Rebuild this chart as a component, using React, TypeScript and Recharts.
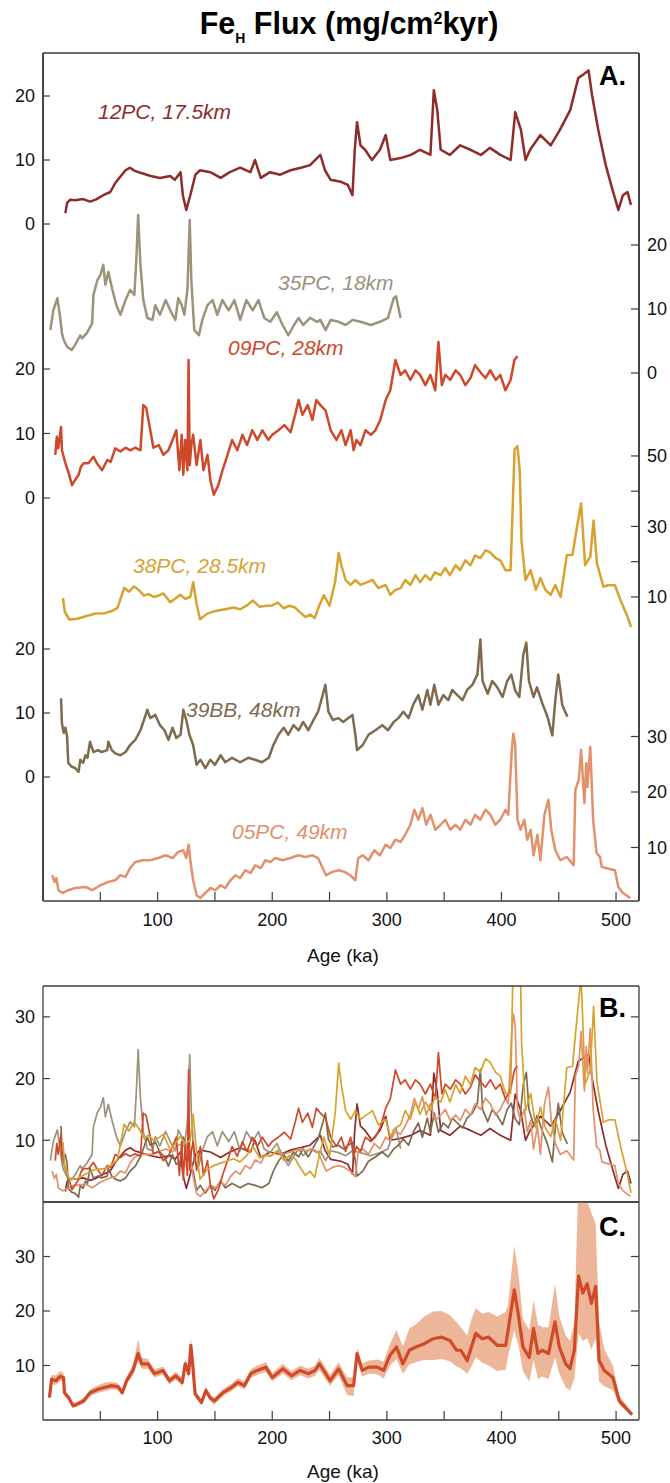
import React from 'react';
import { ComposedChart, Line, Area, XAxis, YAxis } from 'recharts';

const FONT = '"Liberation Sans", Arial, Helvetica, sans-serif';
const AXIS = '#3d3d3d';

// colours of the cores
const COL12 = '#8e2b2b';
const COL35 = '#9b937b';
const COL09 = '#d0482a';
const COL38 = '#d8a22f';
const COL39 = '#7e6b4f';
const COL05 = '#e3906c';
const COLMEAN = '#d04a28';
const COLBAND = '#edb699';

// 12PC, 17.5km
const age12PC = [19.5, 21, 23.8, 28, 35, 41, 46, 52.6, 58.7, 63, 67.5, 72, 76, 80, 85, 94, 102, 111, 115, 120, 122, 125, 128.5, 133, 137, 146, 155, 163, 172, 181, 185, 190, 198, 207, 216, 225, 233, 242, 246, 251, 260, 266, 270, 272, 274, 277, 281, 287, 294, 299, 303, 312, 321, 329, 338, 341, 344, 347, 355, 364, 373, 382, 390, 399, 408, 412, 417, 421, 425, 434, 443, 451, 460, 467, 471, 476, 479, 484.5, 491, 497, 502, 506, 510, 513];
const flux12PC = [1.7, 3.3, 3.8, 3.7, 3.9, 3.5, 3.8, 4.5, 5, 6.4, 7.4, 8.4, 8.8, 8.3, 8, 7.5, 7.2, 7.5, 6.9, 8.1, 4.5, 2.2, 4.5, 7.7, 8.4, 8.1, 7.2, 8.1, 8.8, 8.1, 10, 7.2, 8.1, 7.7, 8.4, 8.8, 9.2, 10.8, 8.4, 6.9, 6.6, 6.1, 4.5, 11.6, 15.9, 12.3, 11.6, 10, 11.6, 13.9, 10, 10.3, 10.8, 11.6, 10.8, 20.9, 17.8, 11.6, 10.8, 12.3, 11.6, 10.8, 11.9, 10.8, 10, 17.5, 14.7, 10, 11.6, 13.9, 12.3, 14.7, 17.8, 22.8, 23.3, 24, 20.2, 14.7, 9.2, 5.3, 2.2, 4.5, 5, 3];

// 35PC, 18km
const age35PC = [6.4, 9, 12.5, 15, 16.5, 18, 21, 25, 28, 32.5, 34, 38, 42.8, 44, 47.4, 50, 52.6, 54.4, 57, 60.5, 64, 67.5, 72, 76, 79.7, 81.4, 83, 85, 87.5, 91, 95.4, 98, 102, 107, 111, 115.5, 118, 121, 123.3, 126, 128, 129.4, 132, 136, 139, 143.5, 148, 152, 156.5, 162, 167, 172, 177.4, 183, 188, 193, 198.3, 204, 209, 214, 219, 223, 227, 233, 239, 242, 246.5, 251, 258, 264, 270, 277, 286, 294, 301, 306, 308, 312];
const flux35PC = [6.7, 9.8, 11.7, 8.6, 6.2, 5.2, 4.1, 3.6, 4.4, 5.9, 5.4, 6.2, 7.7, 12.2, 14.5, 15.3, 16.9, 13.8, 15.8, 13, 10.6, 9.1, 11.4, 13, 12.2, 17.7, 24.7, 16.9, 11.4, 8.6, 8.3, 10.6, 9.1, 11.4, 9.8, 8.3, 11.7, 10.6, 9.1, 13, 23.9, 14.5, 6.7, 5.9, 8.3, 10.6, 11.4, 9.1, 11.4, 9.8, 11.4, 8.3, 11.4, 9.8, 11.4, 8.6, 8, 9.5, 7.5, 5.9, 7.5, 8.6, 7.5, 8.6, 8, 8.3, 6.7, 8.3, 8, 7.5, 8.3, 8, 7.5, 8, 8.6, 11.7, 12, 8.6];

// 09PC, 28km
const age09PC = [10.7, 12, 13.3, 15.7, 16.5, 19.5, 22.3, 25.3, 28, 31, 33, 35.4, 39.6, 44, 47, 51.5, 56, 59, 63, 67.5, 72, 76, 80.5, 85, 87.5, 90, 93.6, 96.3, 101, 105, 109.4, 113, 116.3, 119, 121, 122.4, 124, 126, 127, 128, 129.4, 131, 134, 137.3, 140, 143.5, 146, 149, 153, 156.6, 161, 165, 169.5, 174, 178, 182.6, 187, 191.3, 196.6, 200, 205.4, 210.6, 216, 220, 223, 226.3, 231, 235, 238.5, 242, 246.5, 251, 256, 260.3, 264, 268.4, 271, 273.5, 277, 281.3, 286, 290, 294.3, 299, 303, 307.5, 312, 316, 320.5, 325, 329, 333.6, 338, 342.3, 345, 348, 351, 355.4, 360, 364, 368.5, 373, 377, 381.6, 386, 390.3, 395, 399, 403.5, 408, 411.3, 414];
const flux09PC = [6.7, 9.5, 7.7, 11, 7.4, 5.4, 3.9, 2, 2.8, 3.6, 4.8, 5.4, 5.4, 6.4, 5.4, 4.3, 5.9, 5.6, 7.7, 7.2, 7.8, 7.4, 7.8, 7.4, 14.4, 14, 10.5, 7.8, 8.2, 6.7, 7.4, 9, 10.5, 4.3, 9.8, 3.6, 9, 4.3, 21.4, 5.1, 8.2, 9.8, 5.1, 9, 4.3, 6.7, 2.8, 0.5, 2, 4.3, 6.7, 9, 7.4, 9.8, 8.2, 10.5, 9, 10.5, 9, 9.8, 10.5, 11.3, 10.2, 12.9, 15.2, 12.9, 14.4, 12.1, 15.2, 14.4, 13.6, 10.5, 9, 10.5, 8.2, 10.5, 7.4, 9, 8.2, 10.5, 9.8, 10.5, 12.1, 15.2, 16.7, 21.4, 19.1, 19.8, 18.3, 19.8, 19.1, 17.5, 19.1, 16.7, 24.2, 17.5, 19.1, 18.3, 19.8, 19.1, 17.5, 18.6, 20.6, 19.5, 18.6, 19.8, 18.3, 19.1, 16.7, 18.3, 21.4, 22];

// 38PC, 28.5km
const age38PC = [17.4, 19, 23, 30, 38, 46, 54, 60, 65, 70.8, 75, 79.5, 84, 88, 92, 96.6, 101, 105, 111, 115, 119.7, 124, 128.5, 131, 134, 137, 143, 149, 155, 160, 166, 172, 178, 183, 189, 195, 200, 205, 210, 215, 220, 224, 229, 233, 237, 241, 245, 250, 255, 258, 260.3, 264, 268.4, 272.5, 277, 283, 287.5, 292.6, 299, 303, 307.5, 312, 316, 320.5, 325, 329, 333.6, 338, 342, 347, 351, 355, 360, 364, 368.5, 373, 377, 381.6, 386, 390, 395, 399, 403.5, 408, 410, 411.5, 414, 416, 417.5, 421, 425.5, 430, 434, 438.3, 443, 447, 451.6, 457, 462, 466, 469.5, 473, 477.5, 480.4, 483.3, 489, 493, 499, 504, 510, 513];
const flux38PC = [9.7, 5.8, 3.6, 3.8, 4.6, 5.3, 5.4, 6, 6.9, 12.6, 11.5, 13, 11.8, 10.4, 10.8, 10, 10.4, 11, 8.5, 9.4, 10.6, 9.5, 10, 14.2, 8, 3.7, 5.2, 5.9, 6.3, 6.6, 7, 6.5, 7.6, 9, 7.2, 7.5, 7.6, 8.4, 6.8, 7.5, 7, 5.7, 4.3, 5, 4, 7.5, 10.5, 7.5, 14.5, 22.5, 19, 14.8, 13.4, 14.8, 13.4, 14.2, 14.8, 12.5, 13.4, 10.6, 12, 12.5, 14.8, 13.4, 16.2, 14.2, 16.2, 14.8, 17, 16.2, 18.2, 16.2, 19, 17.6, 20.4, 19, 21.8, 21, 23.2, 22.7, 21, 20.4, 17.6, 17.6, 37.3, 51.9, 52.8, 45.8, 26, 14.8, 17.6, 12, 15.4, 12, 10.6, 13.4, 10, 21.8, 22, 30, 36.5, 19, 21.4, 31.7, 19.5, 12.9, 13.3, 13.3, 9, 4.4, 1.5];

// 39BB, 48km
const age39BB = [15.7, 16.5, 18, 19.5, 21, 22, 25, 28, 31, 32.5, 35, 37, 38.8, 41, 44, 48, 51, 56, 57, 60, 63, 67.5, 72, 76, 80.5, 85, 87.5, 91, 93.6, 98, 102, 106, 109.4, 113, 116.3, 120, 122.4, 125, 127.7, 131, 134, 137.3, 141.6, 146, 150, 155, 159, 165, 172, 179, 185, 191, 197, 201, 205.4, 210, 214, 218.5, 223, 227, 231.5, 236, 240, 244, 246.4, 249, 253, 257.7, 262, 266.4, 270, 272.5, 274, 279, 284, 290, 296, 301, 306, 310, 314.4, 319, 323, 327.5, 331, 335.3, 338, 341.4, 345, 349.3, 353.6, 357, 361.5, 366, 370, 374.6, 379, 381.6, 383.5, 388, 392, 396.4, 401, 405, 408.6, 412, 415.6, 419, 421.7, 424, 428, 431, 435.7, 440, 444.4, 447, 449.6, 453, 457.5];
const flux39BB = [12.3, 8.4, 6.9, 7.7, 6.3, 2.2, 1.6, 1.4, 0.8, 2.7, 2.2, 3.4, 3, 5.5, 3.9, 4.2, 3.9, 4.2, 5.5, 4.2, 3.7, 3.4, 3.9, 5, 5.8, 7.3, 8.6, 10.5, 9.2, 9.7, 8.1, 7.3, 5.8, 7.7, 6.1, 6.6, 10.5, 8.9, 6.6, 5, 1.9, 2.7, 1.4, 2.7, 1.9, 3.4, 2.3, 3, 2.3, 3, 2.7, 2.3, 3, 5, 6.6, 7.7, 6.6, 8.1, 7.3, 8.6, 7.3, 8.9, 10.2, 12.8, 14.4, 10.2, 8.9, 9.2, 8.6, 9.2, 9.7, 6.6, 4.2, 5, 6.6, 7.3, 8.1, 7.3, 8.6, 9.2, 10.2, 9.2, 11.3, 12.8, 10.5, 13.6, 11.3, 14.4, 11.3, 12.8, 12, 13.6, 12.8, 12, 13.6, 14.4, 16, 21.5, 15, 13, 15, 14, 12.5, 15, 16, 13.5, 12.5, 19, 21, 15, 12.5, 14, 11.5, 9.5, 6.5, 12, 16, 11.3, 9.4];

// 05PC, 49km
const age05PC = [8, 10, 11.6, 13.4, 17, 22, 28, 37, 43, 50, 57, 63, 67.5, 72, 76, 80.6, 86.6, 93.6, 100.6, 107, 113, 118, 122.4, 125, 127, 128.5, 131, 134, 137.3, 141.6, 146, 150.5, 155, 159, 163.5, 168, 172, 176.5, 181, 185.3, 190, 194, 198.3, 202.7, 209, 216, 223, 229, 235, 240, 244, 247, 252.5, 258, 263, 268, 272.5, 275, 279, 284, 289, 294, 299, 303, 307.5, 312, 316, 320.5, 324, 327.5, 331, 334.4, 338, 342.3, 347, 351, 355.4, 360, 364, 368.5, 373, 377, 381.6, 386, 390.3, 394.6, 399, 403.5, 406, 409, 410.4, 412, 414, 416.6, 420, 422.5, 425.5, 428, 431.4, 434, 437.5, 441, 443.5, 447, 451.4, 457, 463, 464.5, 467.5, 469.5, 472.4, 474, 475, 477.5, 480, 483, 486, 487.6, 491, 499, 502, 506, 512.5];
const flux05PC = [5, 3.8, 4.5, 2.3, 1.8, 2.3, 2.7, 2.9, 2.3, 3.2, 3.8, 4.1, 5, 4.7, 6.3, 7.4, 7.7, 7.7, 8.1, 8.6, 8.1, 9.2, 9.5, 8.1, 10.5, 7.7, 4.1, 1.4, 0.9, 1.8, 2.7, 2.3, 3.2, 2.7, 4.1, 5, 4.5, 5.9, 5.4, 6.8, 6.3, 7.7, 7.4, 8.1, 7.7, 8.1, 8.6, 8.3, 8.6, 8.1, 6.3, 5, 5.6, 5.9, 5.6, 5, 4.1, 8.1, 8.6, 7.7, 9.5, 8.6, 10.5, 9.9, 11.4, 11, 12.3, 14.1, 16.8, 15, 17.1, 14.1, 15.9, 13.2, 14.1, 15, 13.2, 14.1, 13.2, 15, 14.1, 15.9, 15, 16.8, 15.9, 14.1, 15, 16.8, 15.9, 27.5, 30.5, 28.5, 15, 13.2, 15, 11.4, 13.2, 8.6, 12.3, 7.7, 15.9, 18.6, 13.2, 9.5, 7.7, 8.3, 6.8, 20.4, 22.2, 27.6, 18, 25.2, 20.9, 28.1, 15, 9, 8.3, 6.5, 6.3, 5.9, 2.9, 1.8, 0.9];

// stacked mean with its envelope (panel C)
const ageStack = [5.6, 7.5, 11.2, 15, 17.9, 18.7, 22.4, 26.2, 29.9, 35.5, 41.1, 48.6, 54.2, 59.8, 65.4, 69.2, 72.9, 78.5, 83, 86, 91.6, 97.2, 104.7, 110.3, 115.9, 121.5, 124.1, 127.1, 129, 130.8, 132.7, 138.3, 142.1, 145.8, 149.5, 157, 164.5, 170.1, 175.7, 181.3, 186.9, 194.4, 200, 209.3, 216.8, 224.3, 231.8, 237.4, 241.1, 246.7, 250.5, 257.9, 265.4, 271, 274, 278.5, 284.1, 291.6, 297.2, 302.8, 308.4, 314, 319.6, 325.2, 332.7, 340.2, 347.7, 355.1, 360.7, 364.5, 370.1, 373.8, 377.6, 383.2, 388.8, 396.3, 403.7, 405.6, 411.2, 415, 418.7, 424.3, 428, 431.8, 435.5, 441.1, 446.7, 450.5, 456.1, 459.8, 463.6, 467.3, 471, 474.8, 478.5, 482.2, 485.2, 489.7, 497.2, 502.8, 514];
const meanStack = [4.1, 7.5, 7.2, 8, 7.8, 5, 4.1, 2.6, 2.9, 3.5, 5, 5.7, 6, 6.3, 6.1, 5, 7.2, 9.1, 12.2, 10.3, 10.3, 8.5, 9.1, 7.2, 8.1, 6.9, 10.3, 8.5, 13.7, 9.7, 4.8, 3.2, 5.4, 4.1, 3.5, 5, 6, 6.9, 6.3, 8.5, 9.1, 9.7, 7.8, 9.4, 8.1, 9.1, 8.5, 9.1, 10.3, 8.5, 7.2, 9.4, 6.3, 6.3, 12.2, 9.1, 9.7, 9.7, 9.1, 11.9, 13.4, 10.3, 12.8, 13.4, 14, 14.9, 15.2, 14.6, 12.8, 12.8, 10.9, 13.4, 15.9, 14.9, 15.2, 13.7, 13.7, 16.2, 23.9, 19, 13.4, 11.5, 16.8, 12.2, 12.8, 12.2, 18, 13.4, 10.3, 9.4, 12.8, 26.4, 23.3, 25, 21.4, 24.5, 10.9, 9.1, 7.8, 3.5, 1];
const lowStack = [3.6, 6.6, 6.4, 7.2, 7, 4.4, 3.6, 2.2, 2.5, 3, 4.4, 5, 5.3, 5.6, 5.5, 4.5, 6.5, 8.2, 10.8, 9.4, 9.4, 7.8, 8.3, 6.5, 7.4, 6.2, 9.4, 7.6, 12.4, 8.8, 4.2, 2.7, 4.8, 3.5, 2.8, 4.4, 5.3, 6.2, 5.6, 7.7, 8.3, 8.8, 7.1, 8.5, 7.3, 8.2, 7.6, 8.1, 9.2, 7.4, 6.3, 8.2, 4.6, 4.4, 10.8, 8, 8.5, 8.4, 7.6, 10, 11.2, 8.5, 10.2, 10.6, 11, 11, 11.2, 10.8, 9.8, 9.5, 8.5, 9.8, 11.5, 10.5, 10, 9, 9.2, 11.5, 16.5, 13.5, 9, 7, 11, 7.5, 8, 7.5, 11.5, 8.5, 6, 5.4, 7.5, 16, 14.5, 15, 13, 15, 7, 6.2, 5.5, 2.8, 0.7];
const highStack = [4.6, 8.3, 8.2, 9, 8.6, 5.7, 4.6, 3.1, 3.4, 4.1, 5.6, 6.4, 6.9, 7, 6.8, 5.6, 8, 10.2, 14.9, 11.4, 11.2, 9.3, 9.8, 7.9, 8.9, 7.7, 11.2, 9.5, 15.2, 10.8, 5.5, 3.8, 6.1, 4.7, 4.1, 5.7, 6.7, 7.7, 7.1, 9.3, 10, 10.6, 8.6, 10.3, 9, 10, 9.4, 10, 11.4, 9.6, 8.3, 10.6, 7.8, 7.9, 13.2, 10.3, 10.9, 11.1, 10.7, 14, 16.5, 13.5, 16.8, 17.5, 19, 19.9, 20, 19.2, 18, 17, 15.5, 18.5, 20.5, 19.5, 19.8, 19, 19.8, 21, 32, 26.5, 18.5, 16.5, 22, 17.5, 17, 17, 25, 19, 15.5, 14.5, 18, 45, 42, 40, 38, 36, 18, 13, 10, 4.5, 1.3];

const ageTicks = [50, 100, 150, 200, 250, 300, 350, 400, 450, 500];

const rows = (ages: number[], vals: number[]) => ages.map((age, i) => ({ age, v: vals[i] }));

const tickText = { fill: '#111', fontSize: 18, fontFamily: FONT };
const axisLine = { stroke: AXIS, strokeWidth: 1.3 };
const tickLine = { stroke: AXIS, strokeWidth: 1.2 };
const ageLabel = (v: number) => (v % 100 === 0 ? String(v) : '');

// plot box shared by all panels
const LEFT = 43;
const RIGHT = 31;
const THIN = 0.01; // axes must have some size to be drawn

function yAx(id: string, side: 'left' | 'right', domain: number[], ticks: number[], fmt?: (v: number) => string) {
  return (
    <YAxis
      key={id}
      yAxisId={id}
      orientation={side}
      width={THIN}
      type="number"
      domain={domain}
      allowDataOverflow
      ticks={ticks}
      interval={0}
      tickSize={side === 'left' ? -7 : -8}
      tickMargin={side === 'left' ? 15 : 16}
      tick={tickText}
      tickFormatter={fmt}
      axisLine={axisLine}
      tickLine={tickLine}
    />
  );
}

function PanelA() {
  const top = 53;
  const bottom = 901;
  // domain that puts value 0 at pixel `zero` with `k` pixels per unit
  const dom = (zero: number, k: number) => [-(bottom - zero) / k, (zero - top) / k];
  const line = (id: string, data: { age: number; v: number }[], color: string) => (
    <Line
      key={id}
      xAxisId="x"
      yAxisId={id}
      data={data}
      dataKey="v"
      type="linear"
      stroke={color}
      strokeWidth={2.5}
      strokeLinejoin="round"
      dot={false}
      isAnimationActive={false}
    />
  );
  return (
    <ComposedChart width={670} height={960} margin={{ top, right: RIGHT, bottom: 960 - bottom, left: LEFT }}>
      <XAxis xAxisId="x" type="number" dataKey="age" domain={[0, 520]} allowDataOverflow height={THIN}
        ticks={ageTicks} interval={0} tickSize={-9} tickMargin={21} tickFormatter={ageLabel}
        tick={tickText} axisLine={axisLine} tickLine={tickLine} />
      <XAxis xAxisId="top" orientation="top" type="number" domain={[0, 520]} allowDataOverflow height={THIN}
        ticks={ageTicks} tick={false} tickLine={false} axisLine={axisLine} />
      {yAx('pc12', 'left', dom(224, 6.4), [0, 10, 20])}
      {yAx('pc09', 'left', dom(498, 6.45), [0, 10, 20])}
      {yAx('bb39', 'left', dom(777, 6.4), [0, 10, 20])}
      {yAx('pc35', 'right', dom(373, 6.4), [0, 10, 20])}
      {yAx('pc38', 'right', dom(632.2, 3.525), [10, 20, 30, 40, 50], (v) => (v % 20 === 10 ? String(v) : ''))}
      {yAx('pc05', 'right', dom(903, 5.55), [10, 20, 30])}
      {line('pc12', rows(age12PC, flux12PC), COL12)}
      {line('pc35', rows(age35PC, flux35PC), COL35)}
      {line('pc09', rows(age09PC, flux09PC), COL09)}
      {line('pc38', rows(age38PC, flux38PC), COL38)}
      {line('bb39', rows(age39BB, flux39BB), COL39)}
      {line('pc05', rows(age05PC, flux05PC), COL05)}
    </ComposedChart>
  );
}

function PanelB() {
  const series: [string, number[], number[], string][] = [
    ['pc12', age12PC, flux12PC, COL12],
    ['pc35', age35PC, flux35PC, COL35],
    ['bb39', age39BB, flux39BB, COL39],
    ['pc05', age05PC, flux05PC, COL05],
    ['pc09', age09PC, flux09PC, COL09],
    ['pc38', age38PC, flux38PC, COL38],
  ];
  return (
    <ComposedChart width={670} height={250} margin={{ top: 26, right: RIGHT, bottom: 8, left: LEFT }}>
      <XAxis xAxisId="x" type="number" dataKey="age" domain={[0, 520]} allowDataOverflow height={THIN}
        ticks={ageTicks} interval={0} tickSize={-9} tick={false} axisLine={axisLine} tickLine={tickLine} />
      <XAxis xAxisId="top" orientation="top" type="number" domain={[0, 520]} allowDataOverflow height={THIN}
        ticks={ageTicks} tick={false} tickLine={false} axisLine={axisLine} />
      {yAx('b', 'left', [0, 35], [10, 20, 30])}
      {yAx('br', 'right', [0, 35], [10, 20, 30], () => '')}
      {series.map(([id, ages, vals, color]) => (
        <Line key={id} xAxisId="x" yAxisId="b" data={rows(ages, vals)} dataKey="v" type="linear"
          stroke={color} strokeWidth={1.7} strokeLinejoin="round" dot={false} isAnimationActive={false} />
      ))}
    </ComposedChart>
  );
}

function PanelC() {
  const data = ageStack.map((age, i) => ({ age, mean: meanStack[i], lo: lowStack[i], hi: highStack[i] }));
  return (
    <ComposedChart width={670} height={293} data={data} margin={{ top: 12, right: RIGHT, bottom: 63, left: LEFT }}>
      <XAxis xAxisId="x" type="number" dataKey="age" domain={[0, 520]} allowDataOverflow height={THIN}
        ticks={ageTicks} interval={0} tickSize={-9} tickMargin={20} tickFormatter={ageLabel}
        tick={tickText} axisLine={axisLine} tickLine={tickLine} />
      <XAxis xAxisId="top" orientation="top" type="number" domain={[0, 520]} allowDataOverflow height={THIN}
        ticks={ageTicks} tick={false} tickLine={false} axisLine={axisLine} />
      {yAx('c', 'left', [0, 40], [10, 20, 30])}
      {yAx('cr', 'right', [0, 40], [10, 20, 30], () => '')}
      <Area xAxisId="x" yAxisId="c" dataKey={(d: any) => [d.lo, d.hi]} type="linear" stroke="none"
        fill={COLBAND} fillOpacity={1} isAnimationActive={false} />
      <Line xAxisId="x" yAxisId="c" dataKey="mean" type="linear" stroke={COLMEAN} strokeWidth={3.2}
        strokeLinejoin="round" dot={false} isAnimationActive={false} />
    </ComposedChart>
  );
}

const coreLabels: [string, number, number, string][] = [
  ['12PC, 17.5km', 98, 119, COL12],
  ['35PC, 18km', 278, 290, COL35],
  ['09PC, 28km', 228, 355, COL09],
  ['38PC, 28.5km', 133, 573, COL38],
  ['39BB, 48km', 186, 717, COL39],
  ['05PC, 49km', 232, 839, COL05],
];

function Overlay() {
  return (
    <svg width={670} height={1483} style={{ position: 'absolute', left: 0, top: 0, pointerEvents: 'none' }}
      fontFamily={FONT}>
      <text x={349} y={34} textAnchor="middle" fontSize={30.5} fontWeight="bold" fill="#000">
        Fe<tspan fontSize={14} dy={9}>H</tspan>
        <tspan dy={-9}> Flux (mg/cm</tspan>
        <tspan fontSize={16} dy={-10}>2</tspan>
        <tspan dy={10}>kyr)</tspan>
      </text>
      {coreLabels.map(([t, x, y, c]) => (
        <text key={t} x={x} y={y} fontSize={21} fontStyle="italic" fill={c}>{t}</text>
      ))}
      <text x={599} y={85} fontSize={27} fontWeight="bold" fill="#000">A.</text>
      <text x={599} y={1017} fontSize={27} fontWeight="bold" fill="#000">B.</text>
      <text x={599} y={1236} fontSize={27} fontWeight="bold" fill="#000">C.</text>
      <text x={343} y={962} textAnchor="middle" fontSize={19} fill="#111">Age (ka)</text>
      <text x={343} y={1478} textAnchor="middle" fontSize={19} fill="#111">Age (ka)</text>
    </svg>
  );
}

export default function App() {
  return (
    <div style={{ position: 'absolute', left: 0, top: 0, width: 670, height: 1483, background: '#fff', fontFamily: FONT }}>
      <div style={{ position: 'absolute', left: 0, top: 0 }}><PanelA /></div>
      <div style={{ position: 'absolute', left: 0, top: 960 }}><PanelB /></div>
      <div style={{ position: 'absolute', left: 0, top: 1190 }}><PanelC /></div>
      <Overlay />
    </div>
  );
}
